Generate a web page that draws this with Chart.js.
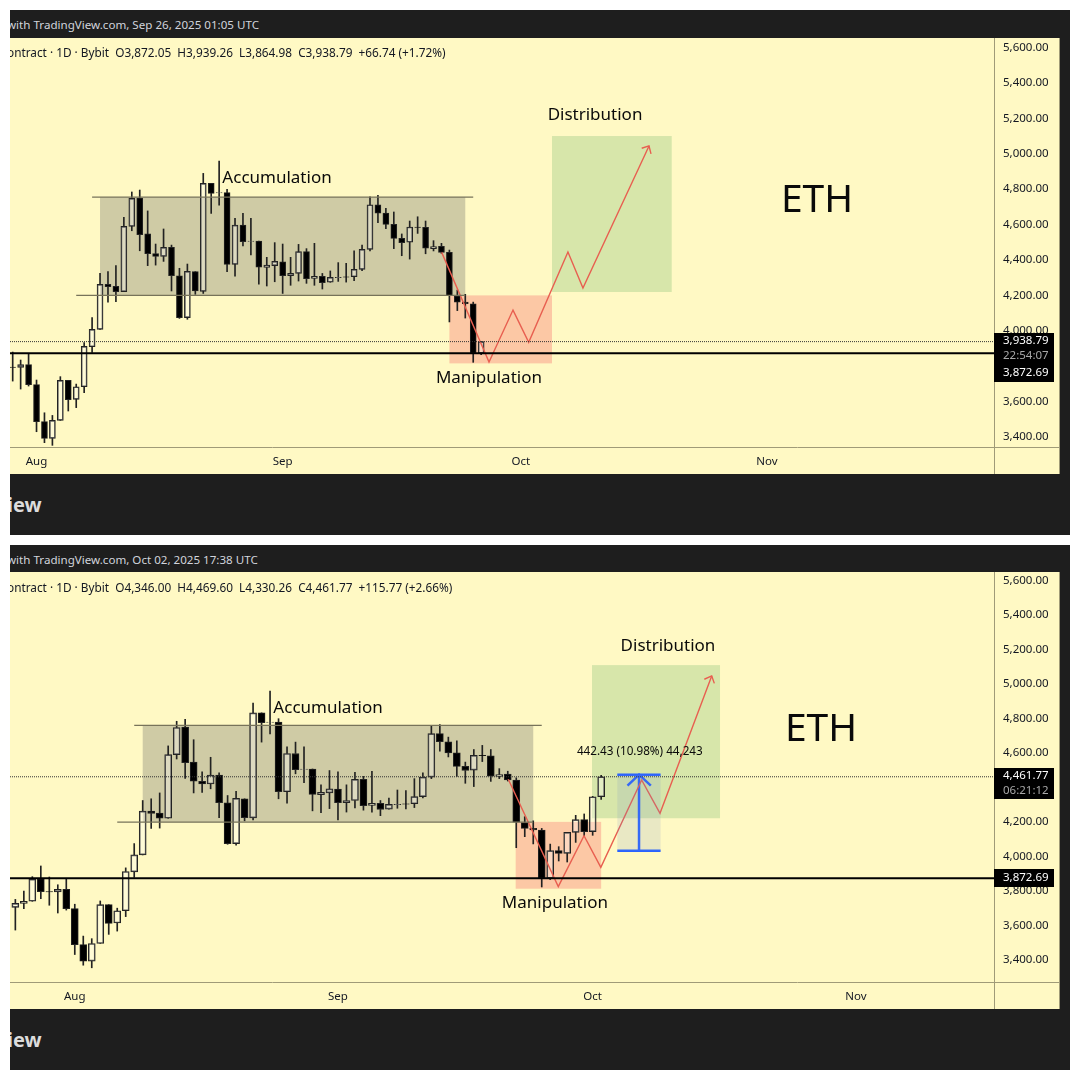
<!DOCTYPE html>
<html>
<head>
<meta charset="utf-8">
<title>ETH</title>
<script src="https://cdn.jsdelivr.net/npm/chart.js@4"></script>
<style>
html,body{margin:0;padding:0;background:#fff;width:1080px;height:1080px;overflow:hidden;font-family:"Noto Sans",sans-serif;}
.panel{position:absolute;left:10px;width:1060px;background:#1e1e1e;overflow:hidden;}
.plot{position:absolute;left:0;width:1050px;background:#fff9c4;}
.head{position:absolute;left:-3px;top:7px;font-size:11.6px;line-height:15px;color:#d1d4dc;white-space:nowrap;}
.status{position:absolute;left:-3px;top:7px;font-size:11.8px;line-height:15px;color:#131722;white-space:pre;}
.brand{position:absolute;left:-3px;font-size:20px;line-height:26px;font-weight:700;color:#dcdcdc;}
canvas{position:absolute;left:0;top:0;}
</style>
</head>
<body>
<div class="panel" style="top:10px;height:525px">
  <div class="head">with TradingView.com, Sep 26, 2025 01:05 UTC</div>
  <div class="plot" style="top:28px;height:436px"><canvas id="chart_top" width="1050" height="436"></canvas>
    <div class="status">ontract · 1D · Bybit  O3,872.05  H3,939.26  L3,864.98  C3,938.79  +66.74 (+1.72%)</div></div>
  <div class="brand" style="top:482px">iew</div>
</div>
<div class="panel" style="top:545px;height:525px">
  <div class="head">with TradingView.com, Oct 02, 2025 17:38 UTC</div>
  <div class="plot" style="top:27px;height:437px"><canvas id="chart_bottom" width="1050" height="437"></canvas>
    <div class="status" style="top:8px">ontract · 1D · Bybit  O4,346.00  H4,469.60  L4,330.26  C4,461.77  +115.77 (+2.66%)</div></div>
  <div class="brand" style="top:482px">iew</div>
</div>
<script>
// daily candles, first one is 4 bars before the left edge of the top chart
var firstDay = -4;
var opens = [3704,3727,3739,3870,3795,3793,3809,3696,3487,3392,3494,3720,3613,3684,3910,4008,4262,4251,4221,4590,4750,4547,4436,4420,4471,4311,4074,4334,4223,4833,4778,4780,4375,4597,4505,4507,4358,4368,4390,4311,4324,4447,4296,4307,4274,4300,4305,4305,4347,4460,4712,4665,4601,4522,4500,4586,4584,4464,4477,4443,4196,4162,4153];
var highs = [3750,3799,3882,3944,3880,3835,3869,3722,3537,3522,3741,3720,3699,3933,4074,4324,4334,4368,4641,4784,4795,4677,4490,4575,4484,4353,4377,4334,4889,4833,4959,4799,4635,4663,4635,4507,4415,4498,4490,4415,4488,4464,4494,4324,4338,4385,4381,4451,4484,4757,4765,4692,4671,4547,4620,4644,4620,4509,4494,4456,4230,4206,4162];
var lows = [3572,3696,3739,3754,3716,3671,3688,3430,3368,3353,3494,3547,3566,3650,3878,4008,4162,4164,4221,4565,4452,4368,4371,4392,4225,4070,4065,4206,4211,4663,4710,4334,4309,4479,4428,4264,4253,4277,4211,4257,4281,4268,4257,4236,4274,4279,4275,4283,4339,4451,4611,4577,4464,4424,4405,4550,4435,4451,4437,4050,4114,4072,3822];
var closes = [3727,3739,3868,3795,3793,3809,3696,3487,3392,3494,3720,3611,3684,3912,4008,4262,4249,4221,4590,4748,4543,4436,4420,4471,4311,4074,4336,4225,4833,4776,4780,4375,4597,4503,4507,4360,4371,4392,4311,4324,4447,4294,4307,4272,4302,4302,4303,4347,4460,4712,4665,4601,4522,4498,4586,4584,4466,4475,4443,4198,4162,4153,3873];

// Sep 26 as it stood in the first snapshot
var snapOpen = [3872.05], snapHigh = [3939.26], snapLow = [3864.98], snapClose = [3938.79];
// Sep 26 to Oct 2 as in the second snapshot
var laterOpens = [3872,4033,4017,4139,4213,4143,4346];
var laterHighs = [4071,4056,4139,4238,4246,4348,4469.6];
var laterLows = [3865,3973,3967,4081,4114,4122,4330.26];
var laterCloses = [4033,4017,4139,4213,4143,4346,4461.77];

var priceTicks = [3400,3600,3800,4000,4200,4400,4600,4800,5000,5200,5400,5600];
var monthDays = [3,34,64,95];
var monthNames = ['Aug','Sep','Oct','Nov'];

// zones: accumulation, manipulation, distribution
var zoneColors = ['#cfcba5','#fcc8a5','#d7e6aa'];
var topZoneLeft = [11,55,67.92], topZoneRight = [57,67.92,83];
var topZoneHigh = [4755,4200,5100], topZoneLow = [4200,3816,4219];
var botZoneLeft = [11,54.93,63.92], botZoneRight = [57,65,79];
var botZoneHigh = [4760,4200,5110], botZoneLow = [4198,3812,4221];

// red projected path
var topPathX = [54.03,59.99,63.01,64.99,69.93,71.82,80.14];
var topPathY = [4443,3824,4117,3935,4445,4242,5044];
var topHeadX = [79.22,80.14,80.39], topHeadY = [5031,5044,4999];
var botPathX = [54.06,59.95,62.98,64.96,69.77,71.93,78.02];
var botPathY = [4447,3824,4120,3936,4443,4250,5047];
var botHeadX = [77.15,78.02,78.33], botHeadY = [5028,5047,5004];

// price range tool on the second chart
var rangeLeft = 66.9, rangeRight = 72, rangeMid = 69.46;
var rangeHigh = 4474, rangeLow = 4032;
var rangeHeadX = [68.1,69.46,70.85], rangeHeadY = [4410,4474,4410];

var supportLevel = 3872.69;
var topLastPrice = 3938.79, botLastPrice = 4461.77;

function priceText(v){
	return v.toLocaleString('en-US',{minimumFractionDigits:2,maximumFractionDigits:2});
}

function lineSet(xs, ys, color, width, dash){
	var pts = [];
	for(var i = 0; i < xs.length; i++){
		pts.push({x:xs[i], y:ys[i]});
	}
	return {type:'line', data:pts, borderColor:color, borderWidth:width, borderDash:dash || [], pointRadius:0, tension:0, fill:false, order:0};
}

function candleSets(o, h, l, c, bodyWidth){
	var upper = [], lower = [], bodies = [], fills = [];
	for(var i = 0; i < o.length; i++){
		var day = firstDay + i;
		var top = Math.max(o[i], c[i]), bot = Math.min(o[i], c[i]);
		upper.push({x:day, y:[top, Math.max(h[i], top)]});
		lower.push({x:day, y:[Math.min(l[i], bot), bot]});
		bodies.push({x:day, y:[bot, top]});
		fills.push(c[i] < o[i] ? '#000000' : 'rgba(255,255,255,0.3)');
	}
	var wick = {backgroundColor:'#222222', barThickness:1, borderWidth:0, grouped:false, order:3};
	return [
		Object.assign({data:upper}, wick),
		Object.assign({data:lower}, wick),
		{data:bodies, backgroundColor:fills, borderColor:'#222222', borderWidth:1, borderSkipped:false, barThickness:bodyWidth, grouped:false, order:2}
	];
}

function noPadding(axis){
	axis.paddingTop = 0;
	axis.paddingBottom = 0;
	axis.paddingLeft = 0;
	axis.paddingRight = 0;
}

function buildChart(id, spec){
	var overlay = {
		id:'overlay',
		beforeDatasetsDraw:function(chart){
			var g = chart.ctx, sx = chart.scales.x, sy = chart.scales.y;
			g.save();
			for(var i = 0; i < spec.zoneLeft.length; i++){
				var x0 = sx.getPixelForValue(spec.zoneLeft[i]), x1 = sx.getPixelForValue(spec.zoneRight[i]);
				var y0 = sy.getPixelForValue(spec.zoneHigh[i]), y1 = sy.getPixelForValue(spec.zoneLow[i]);
				g.fillStyle = zoneColors[i];
				g.fillRect(x0, y0, x1 - x0, y1 - y0);
			}
			g.restore();
		},
		afterDatasetsDraw:function(chart){
			var g = chart.ctx, sx = chart.scales.x, sy = chart.scales.y;
			g.save();
			if(spec.range){
				var rx0 = sx.getPixelForValue(rangeLeft), rx1 = sx.getPixelForValue(rangeRight);
				var ry0 = sy.getPixelForValue(rangeHigh), ry1 = sy.getPixelForValue(rangeLow);
				g.fillStyle = 'rgba(120,140,200,0.16)';
				g.fillRect(rx0, ry0, rx1 - rx0, ry1 - ry0);
			}
			g.fillStyle = '#0a0a0a';
			g.textAlign = 'center';
			g.textBaseline = 'middle';
			for(var i = 0; i < spec.noteText.length; i++){
				g.font = spec.noteSize[i] + 'px "Noto Sans"';
				g.fillText(spec.noteText[i], sx.getPixelForValue(spec.noteX[i]), sy.getPixelForValue(spec.noteY[i]));
			}
			g.restore();
		},
		afterDraw:function(chart){
			var g = chart.ctx, area = chart.chartArea;
			g.save();
			g.strokeStyle = '#a09b78';
			g.lineWidth = 1;
			g.beginPath();
			g.moveTo(area.right + 0.5, 0);
			g.lineTo(area.right + 0.5, chart.height);
			g.moveTo(0, area.bottom + 0.5);
			g.lineTo(chart.width, area.bottom + 0.5);
			g.moveTo(chart.width - 0.5, 0);
			g.lineTo(chart.width - 0.5, chart.height);
			g.stroke();
			// price labels on the axis
			g.font = '11.5px "Noto Sans"';
			g.textAlign = 'left';
			g.textBaseline = 'middle';
			for(var i = 0; i < spec.tagText.length; i++){
				g.fillStyle = '#000000';
				g.fillRect(area.right, spec.tagTop[i], 60, spec.tagHeight[i]);
				g.fillStyle = spec.tagColor[i];
				g.fillText(spec.tagText[i], area.right + 9, spec.tagTop[i] + spec.tagHeight[i] / 2);
			}
			g.restore();
		}
	};
	var ds = candleSets(spec.o, spec.h, spec.l, spec.c, spec.bodyWidth);
	ds.push(lineSet([spec.xMin, spec.xMax], [spec.last, spec.last], '#333333', 1, [1,1]));
	ds.push(lineSet([spec.xMin, spec.xMax], [supportLevel, supportLevel], '#000000', 2));
	ds.push(lineSet([10,58], [spec.zoneHigh[0], spec.zoneHigh[0]], '#77735a', 1.2));
	ds.push(lineSet([8,57], [spec.zoneLow[0], spec.zoneLow[0]], '#77735a', 1.2));
	ds.push(lineSet(spec.pathX, spec.pathY, '#e85f50', 1.4));
	ds.push(lineSet(spec.headX, spec.headY, '#e85f50', 1.4));
	if(spec.range){
		ds.push(lineSet([rangeLeft,rangeRight], [rangeHigh,rangeHigh], '#2962ff', 2.5));
		ds.push(lineSet([rangeLeft,rangeRight], [rangeLow,rangeLow], '#2962ff', 2.5));
		ds.push(lineSet([rangeMid,rangeMid], [rangeLow,rangeHigh], '#2962ff', 2.5));
		ds.push(lineSet(rangeHeadX, rangeHeadY, '#2962ff', 2.5));
	}
	return new Chart(document.getElementById(id).getContext('2d'), {
		type:'bar',
		data:{datasets:ds},
		plugins:[overlay],
		options:{
			responsive:false,
			animation:false,
			devicePixelRatio:1,
			events:[],
			layout:{padding:0},
			plugins:{legend:{display:false}, tooltip:{enabled:false}},
			scales:{
				x:{
					type:'linear', min:spec.xMin, max:spec.xMax, offset:false,
					grid:{display:false, offset:false}, border:{display:false},
					afterBuildTicks:function(axis){
						axis.ticks = monthDays.map(function(d){ return {value:d}; });
					},
					afterFit:function(axis){ axis.height = 27; noPadding(axis); },
					ticks:{
						autoSkip:false, maxRotation:0, padding:0, color:'#131722',
						font:{family:'"Noto Sans"', size:11.5},
						callback:function(v){ return monthNames[monthDays.indexOf(v)]; }
					}
				},
				y:{
					position:'right', min:spec.yMin, max:spec.yMax,
					grid:{display:false}, border:{display:false},
					afterBuildTicks:function(axis){
						axis.ticks = priceTicks.map(function(p){ return {value:p}; });
					},
					afterFit:function(axis){ axis.width = 66; noPadding(axis); },
					ticks:{
						padding:1, color:'#131722',
						font:{family:'"Noto Sans"', size:11.5},
						callback:priceText
					}
				}
			}
		}
	});
}

buildChart('chart_top', {
	o:opens.concat(snapOpen), h:highs.concat(snapHigh), l:lows.concat(snapLow), c:closes.concat(snapClose),
	bodyWidth:6, xMin:-0.34, xMax:123.59, yMin:3343.7, yMax:5653.65, last:topLastPrice,
	zoneLeft:topZoneLeft, zoneRight:topZoneRight, zoneHigh:topZoneHigh, zoneLow:topZoneLow,
	pathX:topPathX, pathY:topPathY, headX:topHeadX, headY:topHeadY, range:false,
	noteText:['Accumulation','Distribution','Manipulation','ETH'],
	noteX:[33.29,73.34,59.98,101.3], noteY:[4863,5218,3733,4735], noteSize:[17,17,17,39],
	tagText:[priceText(topLastPrice),'22:54:07',priceText(supportLevel)],
	tagTop:[295,310,325], tagHeight:[15,15,19], tagColor:['#ffffff','#a8a8a8','#ffffff']
});

buildChart('chart_bottom', {
	o:opens.concat(laterOpens), h:highs.concat(laterHighs), l:lows.concat(laterLows), c:closes.concat(laterCloses),
	bodyWidth:7, xMin:-4.63, xMax:111.27, yMin:3270.5, yMax:5650.5, last:botLastPrice,
	zoneLeft:botZoneLeft, zoneRight:botZoneRight, zoneHigh:botZoneHigh, zoneLow:botZoneLow,
	pathX:botPathX, pathY:botPathY, headX:botHeadX, headY:botHeadY, range:true,
	noteText:['Accumulation','Distribution','Manipulation','ETH','442.43 (10.98%) 44,243'],
	noteX:[32.83,72.87,59.55,90.9,69.55], noteY:[4861,5221,3729,4735,4606], noteSize:[17,17,17,39,11.7],
	tagText:[priceText(botLastPrice),'06:21:12',priceText(supportLevel)],
	tagTop:[196,211,297], tagHeight:[15,16,18], tagColor:['#ffffff','#a8a8a8','#ffffff']
});
</script>
</body>
</html>
